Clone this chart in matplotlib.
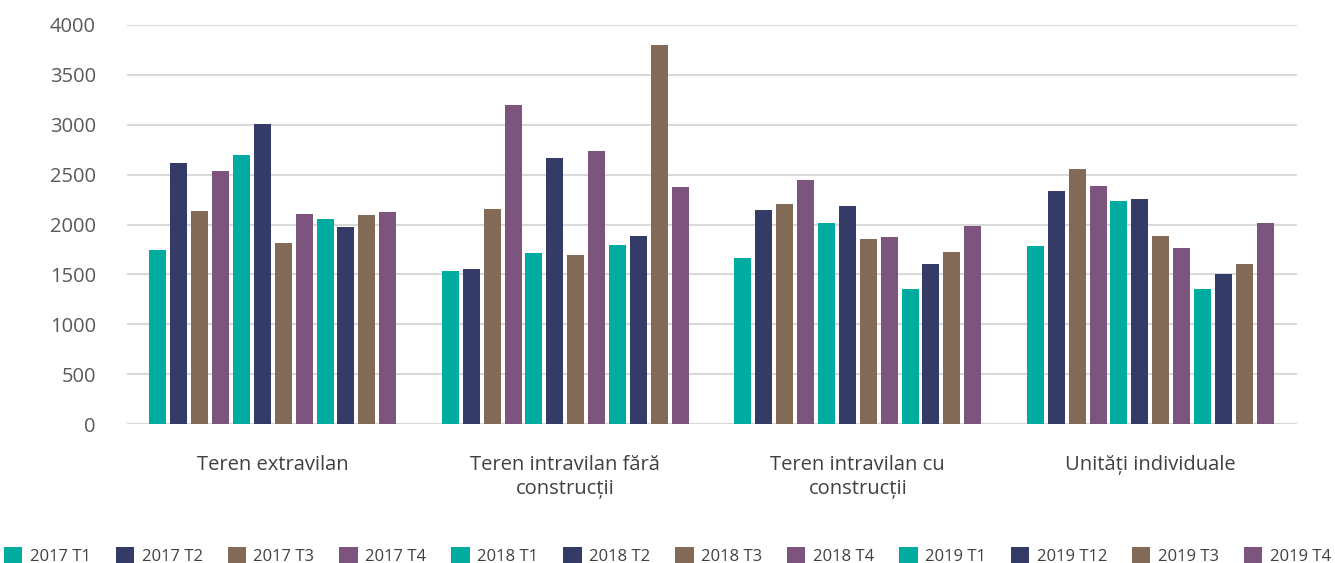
import matplotlib
matplotlib.use("Agg")
import matplotlib.pyplot as plt
import numpy as np

plt.rcParams['font.family'] = ['Open Sans', 'DejaVu Sans']

categories = ["Teren extravilan", "Teren intravilan fără\nconstrucții",
              "Teren intravilan cu\nconstrucții", "Unități individuale"]
series = ["2017 T1", "2017 T2", "2017 T3", "2017 T4",
          "2018 T1", "2018 T2", "2018 T3", "2018 T4",
          "2019 T1", "2019 T12", "2019 T3", "2019 T4"]

# one list per category, in series order
extravilan = [1745, 2620, 2135, 2536, 2697, 3008, 1815, 2105, 2055, 1975, 2095, 2125]
intravilan_fara = [1534, 1554, 2155, 3198, 1714, 2667, 1694, 2737, 1794, 1885, 3800, 2376]
intravilan_cu = [1664, 2145, 2205, 2446, 2015, 2185, 1855, 1875, 1353, 1604, 1724, 1985]
unitati = [1785, 2336, 2556, 2386, 2236, 2256, 1885, 1764, 1353, 1504, 1604, 2015]

colors = ["#00ABA0", "#343B66", "#836A56", "#7D547D"] * 3
yticks = [0, 500, 1000, 1500, 2000, 2500, 3000, 3500, 4000]

values = np.array([extravilan, intravilan_fara, intravilan_cu, unitati])

fig = plt.figure(figsize=(13.35, 5.63), dpi=100)
ax = fig.add_axes([126.5 / 1335, 1 - 424 / 563, (1296.5 - 126.5) / 1335, (424 - 25) / 563])

x = np.arange(len(categories))
pitch = 20.9 / 292.5
width = 17 / 292.5
for i, name in enumerate(series):
    off = (i - 5.5) * pitch
    ax.bar(x + off, values[:, i], width=width, color=colors[i], label=name, zorder=3)

ax.set_xlim(-0.5, 3.5)
ax.set_ylim(0, 4000)
ax.set_yticks(yticks)
ax.set_yticklabels([str(t) for t in yticks])
ax.yaxis.grid(True, color="#D9D9D9", linewidth=1.5, zorder=0)
ax.set_xticks(x)
ax.set_xticklabels(categories, fontsize=14.5, color="#404040", linespacing=1.3)
for s in ax.spines.values():
    s.set_visible(False)
ax.axhline(0, color="#D9D9D9", linewidth=1.5, zorder=2)
ax.tick_params(axis='both', length=0)
ax.tick_params(axis='y', labelsize=14.5, labelcolor="#595959", pad=22)
ax.tick_params(axis='x', pad=22)

fig.legend(loc="lower center", bbox_to_anchor=(0.5, -0.03), ncol=12, frameon=False,
           fontsize=12, handlelength=1.1, handleheight=1.1, handletextpad=0.45,
           columnspacing=1.5, labelcolor="#404040")

fig.savefig("out.png", dpi=100)
